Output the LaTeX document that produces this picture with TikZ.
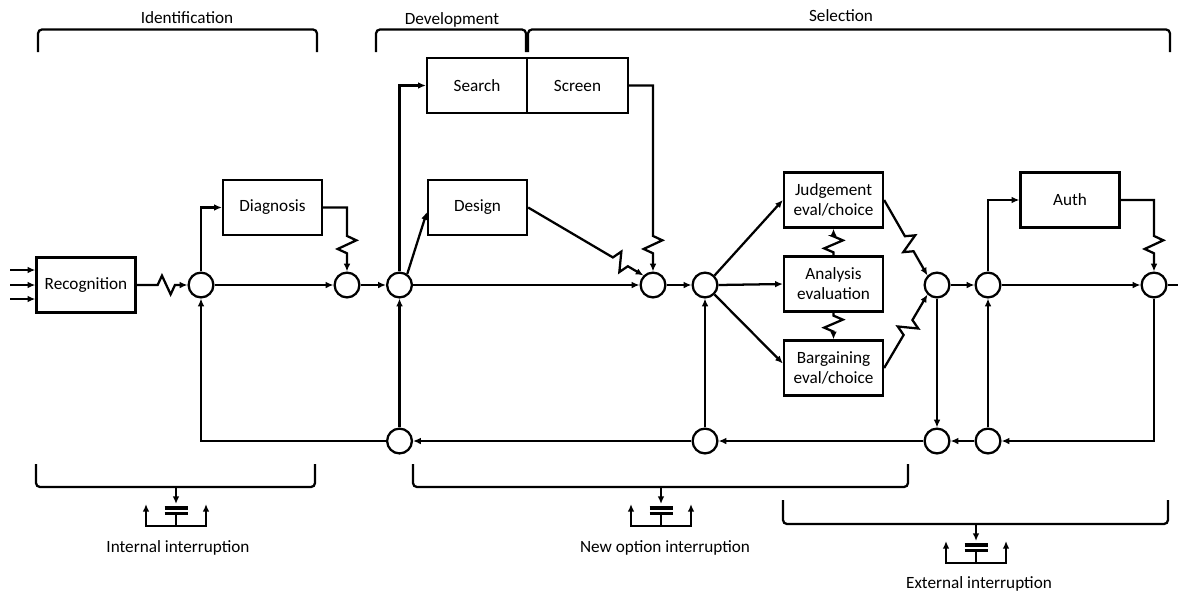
\documentclass[tikz,border=0pt]{standalone}
\usepackage{fontspec}
\setmainfont{Carlito}
\usetikzlibrary{arrows.meta,calc,decorations.pathmorphing}
\newcommand{\intsym}[2]{%
  \draw[arr] (#1,#2) -- (#1,#2+17);
  \draw[bar] (#1-11.5,#2+21) -- (#1+11.5,#2+21);
  \draw[bar] (#1-11.5,#2+26.5) -- (#1+11.5,#2+26.5);
  \draw[ln] (#1,#2+26.5) -- (#1,#2+39);
  \draw[arr] (#1,#2+39) -| (#1-30,#2+17);
  \draw[arr] (#1,#2+39) -| (#1+30,#2+17);
}
\begin{document}
\begin{tikzpicture}[x=0.75pt,y=-0.75pt,
  every node/.style={font=\fontsize{12.9}{15}\selectfont},
  ln/.style={line width=1.7pt},
  arr/.style={ln,-{Latex[length=5.8pt,width=5pt]}},
  box/.style={draw,line width=1.7pt,minimum width=74.25pt,minimum height=41.25pt,align=center,inner sep=1pt},
  sum/.style={draw,circle,line width=1.7pt,minimum size=18.6pt,inner sep=0pt},
  zz/.style={decorate,decoration={zigzag,amplitude=7pt,segment length=#1}},
  zz/.default=13pt,
  brk/.style={ln,rounded corners=3pt},
  bar/.style={line width=2.4pt}
]
\useasboundingbox (0,0) rectangle (1178,594);

% top brackets
\draw[brk] (38,52) -- (38,29.5) -- (317,29.5) -- (317,52);
\draw[brk] (376,52) -- (376,29.5) -- (526,29.5) -- (526,52);
\draw[brk] (528,52) -- (528,29.5) -- (1170,29.5) -- (1170,52);
\node (lid) at (187,18) {Identification};
\node (ldev) at (452,20) {Development};
\node (lsel) at (841,16) {Selection};

% boxes
\node[box] (rec) at (86,285) {Recognition};
\node[box] (diag) at (272.5,207.5) {Diagnosis};
\node[box,minimum width=75pt] (search) at (477,85.5) {Search};
\node[box,minimum width=75.75pt] (screen) at (577.5,85.5) {Screen};
\node[box] (design) at (477.5,207.5) {Design};
\node[box] (judg) at (833.5,200) {Judgement\\eval/choice};
\node[box] (anal) at (833.5,284) {Analysis\\evaluation};
\node[box] (barg) at (833.5,368) {Bargaining\\eval/choice};
\node[box] (auth) at (1070,200) {Auth};

% junctions
\node[sum] (c1) at (201,285) {};
\node[sum] (c2) at (347,285) {};
\node[sum] (c3) at (399.5,285) {};
\node[sum] (c4) at (653,285) {};
\node[sum] (c5) at (705,285) {};
\node[sum] (c6) at (937,285) {};
\node[sum] (c7) at (988,285) {};
\node[sum] (c8) at (1154,285) {};
\node[sum] (b1) at (399.5,441) {};
\node[sum] (b2) at (705,441) {};
\node[sum] (b3) at (937,441) {};
\node[sum] (b4) at (988,441) {};

% inputs
\coordinate (in1) at (10,270);
\coordinate (in2) at (10,285);
\coordinate (in3) at (10,299);
\coordinate (out) at (1182,285);
\draw[arr] (in1) -- (in1 -| rec.west);
\draw[arr] (in2) -- (in2 -| rec.west);
\draw[arr] (in3) -- (in3 -| rec.west);

% connectors
\draw[arr] (rec.east) -- ++(21,0) decorate[zz]{-- ++(18,0)} -- (c1.west);
\draw[arr] (c1.east) -- (c2.west);
\draw[arr] (c1.north) |- (diag.west);
\draw[arr] (diag.east) -| ($(c2.north)+(0,-35.5)$) decorate[zz]{-- ++(0,18)} -- (c2.north);
\draw[arr] (c2.east) -- (c3.west);
\draw[arr] (c3.north) |- (search.west);
\draw[arr] (c3.55) -- ($(design.west)+(0,4.5)$);
\draw[arr] (c3.east) -- (c4.west);
\draw[arr] (screen.east) -| ($(c4.north)+(0,-35.5)$) decorate[zz]{-- ++(0,18)} -- (c4.north);
\draw[arr] (design.east) -- ($(design.east)!0.735!(c4.135)$) coordinate (zd) decorate[zz]{-- ($(zd)!13.5pt!(c4.135)$)} -- (c4.135);
\draw[arr] (c4.east) -- (c5.west);
\draw[arr] (c5.45) -- (judg.west);
\draw[arr] (c5.east) -- (anal.west);
\draw[arr] (c5.-45) -- ($(barg.west)+(0,-4.5)$);
\draw[arr] (anal.north) -- ++(0,-3) decorate[zz=12pt]{-- ++(0,-16)} -- (judg.south);
\draw[arr] (anal.south) -- ++(0,3) decorate[zz=12pt]{-- ++(0,16)} -- (barg.north);
\draw[arr] (judg.east) -- ($(judg.east)!0.48!(c6.135)$) coordinate (zj) decorate[zz]{-- ($(zj)!13.5pt!(c6.135)$)} -- (c6.135);
\draw[arr] (barg.east) -- ($(barg.east)!0.45!(c6.-135)$) coordinate (zb) decorate[zz]{-- ($(zb)!13.5pt!(c6.-135)$)} -- (c6.-135);
\draw[arr] (c6.east) -- (c7.west);
\draw[arr] (c6.south) -- (b3.north);
\draw[arr] (c7.north) |- (auth.west);
\draw[arr] (c7.east) -- (c8.west);
\draw[arr] (auth.east) -| ($(c8.north)+(0,-35.5)$) decorate[zz]{-- ++(0,18)} -- (c8.north);
\draw[ln] (c8.east) -- (out);
\draw[arr] (c8.south) |- (b4.east);
\draw[arr] (b4.west) -- (b3.east);
\draw[arr] (b4.north) -- (c7.south);
\draw[arr] (b3.west) -- (b2.east);
\draw[arr] (b2.north) -- (c5.south);
\draw[arr] (b2.west) -- (b1.east);
\draw[arr] (b1.north) -- (c3.south);
\draw[arr] (b1.west) -| (c1.south);

% bottom brackets and interruption symbols
\draw[brk] (36,464) -- (36,487) -- (315,487) -- (315,464);
\draw[brk] (413,464) -- (413,487) -- (908,487) -- (908,464);
\draw[brk] (783,500) -- (783,524) -- (1168,524) -- (1168,500);
\intsym{176}{487}
\intsym{661}{487}
\intsym{976}{524}
\node (lint) at (178,548) {Internal interruption};
\node (lnew) at (665,548) {New option interruption};
\node (lext) at (979,584) {External interruption};
\end{tikzpicture}
\end{document}
